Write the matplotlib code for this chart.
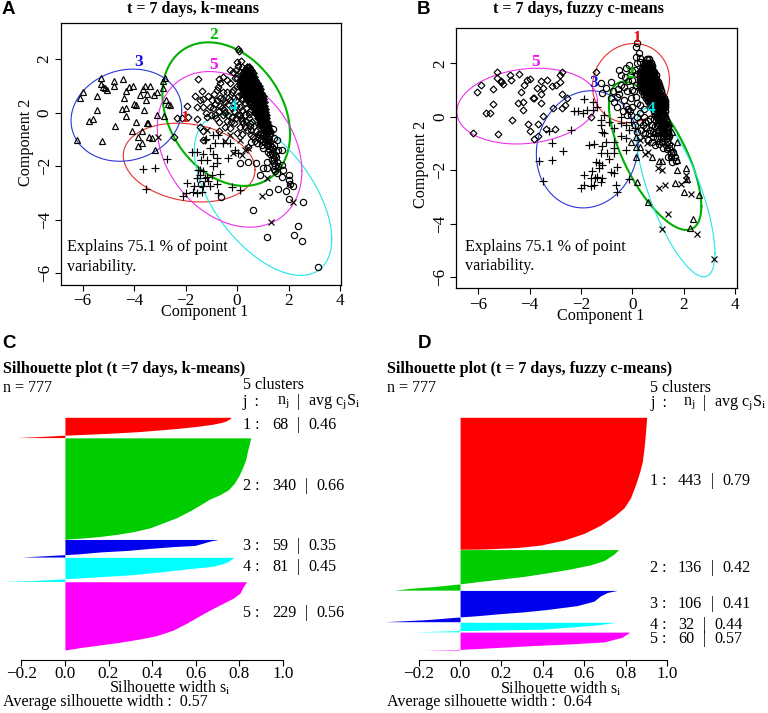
import numpy as np
import matplotlib
matplotlib.use("Agg")
import matplotlib.pyplot as plt

plt.rcParams['font.family'] = ['Liberation Serif', 'DejaVu Serif']
plt.rcParams['mathtext.default'] = 'regular'

W, H = 768, 713

# ---------- Panel A points (Component 1, Component 2) ----------
A_tri = [(-6.23,-1.02),(-6.1,.53),(-5.97,.78),(-5.45,.63),(-5.45,.1),(-5.74,-.3),(-5.6,-.25),(-5.28,1.27),(-5.28,1.07),
 (-5.13,.93),(-5.2,.94),(-5.07,.85),(-4.8,1.18),(-4.77,1.0),(-4.74,-.52),(-5.26,-1.06),(-4.44,1.24),(-4.39,.53),(-4.48,.12),
 (-4.33,.16),(-4.33,-.12),(-4.33,.82),(-4.18,.95),(-4.03,1.0),(-3.94,.29),(-3.94,-.37),(-4.08,-.68),(-3.83,-.92),(-3.83,-1.24),
 (-3.68,-1.14),(-3.7,-.68),(-3.77,.66),(-3.64,.87),(-3.58,.99),(-3.38,.99),(-3.51,.7),(-3.55,.47),(-3.61,.1),(-3.51,-.4),
 (-3.43,-.9),(-3.29,-.96),(-3.19,-1.39),(-3.12,-.11),(-3.21,.66),(-3.1,.75),(-2.88,1.18),(-2.8,1.3),(-2.89,.91),(-2.77,.47),
 (-2.6,.29),(-2.82,-.12),(-4.0,.3),(-3.45,-.4),(-2.68,.3)]
A_dia = [(.05,2.36),(.08,2.28),(.01,1.9),(.14,1.93),(.05,1.75),(.2,1.7),(-.27,1.57),(-.53,1.34),(-1.5,1.24),(-1.37,.82),(-1.63,.63),
 (-1.31,.5),(-1.11,.6),(-1.44,.47),(-1.93,.25),(-1.57,.22),(-1.31,.22),(-.79,.47),(-.66,.53),(-.4,.78),(-.92,.16),(-.6,.16),
 (-.85,-.09),(-1.18,-.17),(-1.57,-.25),(-1.89,-.17),(-2.15,-.2),(-2.34,-.2),(-1.44,-.55),(-1.31,-.7),(-1.31,-1.02),(-2.46,-.92),
 (-.27,.47),(-.14,.85),(-.08,1.28),(-.27,1.09),(-.66,1.09),(-.79,.85),(-.98,.47),(-.47,-.02),(-.27,-.58),(.12,-.09),(.25,-.4),
 (.5,-.52),(.63,-.9),(.9,-1.02),(1.02,-.58),(.44,-1.27),(-.1,.55),(-.05,.25),(.05,.6),(.1,.2),(-.2,.15),(-.35,.3),(-.55,.75),
 (.3,-.1),(.45,-.2),(.6,-.35),(-.1,-.4),(.0,-.75),(.2,-.8),(-.45,-.55),(-.7,-.35),(-1.05,.2),(-1.2,.0),(-.7,-.7),(.35,.15),
 (.55,-.65),(.75,-.7),(.82,-.8),(1.0,-.8),(1.1,-.95),(1.2,-1.15),(1.3,-1.1),
 (.85,-.45),(1.0,-.55),(1.1,-.5),(1.2,-.7),(.95,-.75),(1.05,-.9),(1.2,-.9),(1.3,-.85),(.8,-.95),(.7,-1.05),(.55,-.85),(.95,-1.0),
 (.65,-.5),(.4,-.65),(.3,-.55),(.2,-.3),(.45,-.05),(.5,.05),(.05,-.1),(.1,-.55),(-.05,-.2),(.3,.35),(.2,.45),(.15,.7),(.0,1.0),
 (-.2,.75),(-.45,.4),(-.65,.25),(-.8,-.2),(-.4,-.3),(-.55,-.1),(-.2,-.15),(-.1,.05),(-.75,.95),(-.7,1.25),(-.4,1.2),(-.15,1.5),
 (-.05,1.6),(.1,1.5),(.0,1.3),(-.9,.7),(-.55,.5),(-.85,.3),(-.35,.55),(-.5,.1),(-.7,.05),(-1.0,-.1),(-.35,-.1),(.2,.1),(.35,-.3),
 (.5,-.4),(-.25,-.35),(.15,-.2),(-.05,.45),(.2,.55)]
A_band = {1.7:[.38,.46], 1.58:[.3,.38,.46,.54], 1.46:[.22,.3,.38,.46,.54,.62], 1.34:[.18,.26,.34,.42,.5,.58,.66],
 1.22:[.14,.22,.3,.38,.46,.54,.62,.7], 1.1:[.12,.2,.28,.36,.44,.52,.6,.68,.76], .98:[.12,.2,.28,.36,.44,.52,.6,.68,.76,.84],
 .86:[.18,.26,.34,.42,.5,.58,.66,.74,.82,.88], .74:[.24,.32,.4,.48,.56,.64,.72,.8,.88,.94], .62:[.3,.38,.46,.54,.62,.7,.78,.86,.94,1.0],
 .5:[.38,.46,.54,.62,.7,.78,.86,.94,1.02], .38:[.48,.56,.64,.72,.8,.88,.96,1.04], .26:[.58,.66,.74,.82,.9,.98,1.06],
 .14:[.64,.72,.8,.88,.96,1.04,1.1], .02:[.7,.78,.86,.94,1.02,1.1], -.1:[.76,.84,.92,1.0,1.08,1.14], -.22:[.82,.9,.98,1.06,1.14],
 -.34:[.88,.98,1.08,1.16], -.46:[.95,1.05,1.15,1.22], -.58:[1.02,1.12,1.22], -.7:[1.08,1.18,1.28]}
A_cir = [(.12,-1.89),(.44,-1.85),(.74,-1.89),(1.02,-2.08),(1.15,-2.08),(.9,-2.33),(1.15,-1.83),(1.35,-1.77),(1.48,-1.58),(1.41,-.62),
 (1.74,-1.39),(1.48,-2.01),(1.48,-2.2),(1.74,-1.95),(1.8,-2.14),(1.74,-2.39),(2.0,-2.33),(2.03,-2.51),(2.06,-2.67),(2.19,-2.76),
 (1.61,-2.86),(1.89,-2.92),(1.26,-2.97),(2.0,-3.22),(2.55,-3.35),(.61,-3.64),(-.63,-3.17),(1.15,-4.63),(2.36,-4.25),(2.23,-4.59),
 (2.51,-4.79),(3.16,-5.77),(-1.4,-2.66),(1.28,-.77),(1.15,-1.02),(1.54,-1.02),(.76,-1.14),(1.02,-1.33),(1.22,-1.46),(1.35,-1.27),
 (1.61,-1.39),(.55,-1.1),(.9,-.85),(1.3,-1.55),(1.45,-1.75),(1.42,-.95),(.98,-1.2),(1.25,-1.0),(1.1,-1.1),(1.0,-1.05),(1.15,-1.2),
 (1.3,-1.25),(1.45,-1.2),(1.4,-1.35),(1.25,-1.35),(1.35,-1.5),(1.5,-1.45),(1.5,-1.65),(1.4,-1.6),(1.55,-1.85),(1.6,-2.0),(1.45,-1.9),
 (1.42,-2.1),(1.55,-2.25)]
A_plus = [(-3.64,-2.1),(-3.19,-2.08),(-2.73,-1.73),(-3.54,-2.86),(-1.76,-1.49),(-1.57,-1.49),(-1.39,-1.77),(-1.18,-1.77),(-.79,-1.7),
 (-.79,-1.89),(-.34,-1.7),(-1.44,-2.14),(-1.31,-2.2),(-1.57,-2.45),(-1.18,-2.39),(-.98,-2.33),(-.66,-2.29),(-1.96,-2.64),
 (-1.69,-2.76),(-1.31,-2.76),(-1.12,-2.57),(-.79,-2.66),(-.21,-2.79),(.12,-2.91),(-.73,-3.01),(-1.57,-3.01),(-1.98,-3.01),
 (-2.09,-3.13),(-1.24,-1.02),(-.85,-1.14),(-1.05,-1.33),(-.53,-1.14),(-.27,-1.14),(-.08,-1.39),(.05,-1.52),(-.92,-.83),(-.73,-.83),
 (-1.31,-1.55),(-.92,-2.01),(-1.44,-2.33),(-1.05,-2.76),(-1.37,-2.95),(-1.5,-2.15),(-1.2,-1.0),(-.95,-1.55),(-1.25,-2.45),(-1.7,-2.95)]
A_x = [(-3.08,-.9),(.96,-3.1),(1.32,-4.1),(2.19,-3.35),(2.0,-2.67),(1.15,-2.45),(-.14,-1.52),(.18,-1.58),(.12,-1.02),(.44,-1.33),
 (-1.18,-.65),(-.27,-.83),(-.45,-1.05),(.3,-1.4)]

# ---------- Panel B points ----------
B_dia = [(-6.21,-.59),(-6.04,.92),(-5.91,1.19),(-5.43,1.03),(-5.43,.48),(-5.71,.13),(-5.56,.16),(-5.23,-.64),(-5.26,1.68),(-5.26,1.44),
 (-5.13,1.34),(-5.03,1.23),(-5.1,1.3),(-4.77,1.56),(-4.73,1.38),(-4.7,-.12),(-4.42,1.61),(-4.35,.92),(-4.44,.53),(-4.27,.57),(-4.27,.26),
 (-4.22,1.19),(-4.12,1.38),(-3.99,1.4),(-3.87,.69),(-4.05,-.28),(-4.0,-.52),(-3.83,-.84),(-3.66,-.72),(-3.66,-.28),(-3.73,1.07),
 (-3.57,1.35),(-3.31,1.38),(-3.47,1.07),(-3.57,.5),(-3.47,.03),(-3.35,-.47),(-3.01,-.47),(-3.08,.32),(-3.12,1.15),(-2.99,1.19),
 (-2.82,1.31),(-2.73,1.69),(-2.83,1.56),(-2.73,.85),(-2.53,.69),(-2.62,.44),(-2.75,.32),(-1.62,-.02),(-1.4,1.69),(-3.85,.7),(-3.55,.85)]
B_plus = [(-3.64,-1.65),(-3.12,-1.63),(-2.69,-1.28),(-3.48,-2.41),(-3.14,-.97),(-2.4,-.49),(-3.25,-.53),(-1.88,.67),(-2.27,.23),(-2.1,.22),
 (-1.91,.16),(-1.75,.26),(-1.52,.57),(-1.52,.26),(-1.36,.38),(-1.23,-.12),(-1.23,-.31),(-1.17,-.55),(-.71,-.43),(-.43,0),(-.45,-.24),
 (-.26,-.31),(-.13,-.49),(-.43,-.72),(-.26,-.81),(-.71,-.93),(-1.69,-1.05),(-1.49,-1.02),(-1.17,-1.08),(-1.04,-.93),(-.71,-1.18),
 (-.26,-1.24),(-1.23,-1.36),(-.97,-1.36),(-.71,-1.36),(-.91,-1.59),(-1.43,-1.68),(-1.3,-1.74),(-1.17,-1.8),(-.58,-1.86),(-.84,-2.05),
 (-1.56,-2.02),(-1.88,-2.17),(-1.62,-2.3),(-1.36,-2.24),(-1.17,-2.3),(-.71,-2.11),(-1.23,-2.42),(-1.88,-2.55),(-2.01,-2.67),(-1.62,-2.59),
 (-1.49,-2.55),(-.62,-2.55),(-.13,-2.34),(-.58,-2.8),(-1.1,-.62),(-1.1,.07),(-.91,-.18),(-.06,-.18),(.09,-.43),(-1.3,-1.9),(-1.45,-2.3)]
B_tri = [(.16,-.74),(-.06,-.93),(.13,-1.12),(.32,-1.12),(.16,-1.49),(.17,-2.45),(.62,-3.2),(1.04,-1.65),(1.17,-1.65),(.78,-1.49),(1.65,-2.46),
 (2.01,-2.8),(2.6,-2.93),(2.38,-3.82),(2.25,-4.14),(2.08,-1.93),(1.75,-.93),(1.56,-.55),(1.43,-.24),(1.23,.19),(1.62,-1.3),(1.75,-1.61),
 (1.75,-1.99),(2.14,-2.34),(1.36,-1.12),(1.49,-1.43),(.85,-.6),(1.0,-.9)]
B_x = [(3.18,-5.33),(2.53,-4.38),(1.17,-4.19),(1.4,-3.63),(1.04,-2.65),(1.27,-2.56),(1.91,-2.51),(2.27,-2.9),(2.08,-2.36),(2.08,-2.17),
 (1.0,-1.93),(1.14,-1.99),(.58,-.99),(.48,-1.39),(.62,-1.3),(.32,-.87),(.97,-.62),(.42,-.75)]
B_cir = [(.19,2.75),(.16,2.62),(.26,2.37),(.32,2.19),(.13,2.25),(.19,2),(.3,2.05),(-.13,1.94),(-.26,1.81),(-.52,1.75),(-.45,1.56),(-.84,1.31),
 (-1.04,1.07),(-1.23,1.25),(-1.17,.88),(-.84,.69),(-.58,.75),(-.32,.63),(-.06,.69),(-.32,1.13),(0,1.38),(0,1),(-.58,.38),(0,.38),(.19,.5),
 (.32,.13),(-.06,.07),(-.75,.95),(-.55,1.05),(-.2,.95),(.15,1.2),(.2,1.6),(.1,1.75),(-.15,.3),(-.35,.2),(.45,.0),(.6,-.15),(.55,-.4),
 (.75,-.3),(.65,-.6),(.9,-.35),(.8,-.75),(1.0,-.6),(1.15,-.95),(1.3,-1.05),(1.45,-1.15),(1.5,-1.35),(.9,-1.05),(.75,-.95),(1.65,-1.5),
 (1.55,-1.7),(.2,.0),(.3,-.2),(.1,-.3),(.35,-.5),(.2,-.55),(.5,-.2),(.7,-.1),(.85,-.1),(.95,-.3),(1.05,-.5),(1.15,-.4),(1.25,-.5),(1.3,-.7),
 (1.4,-.8),(1.2,-.8),(1.1,-.75),(.95,-.8),(1.05,-1.0),(1.2,-1.15),(1.35,-.95),(1.45,-1.0),(1.35,-1.2),(1.5,-1.1),(1.6,-1.3),(1.5,-1.5),
 (1.7,-1.65),(1.4,-1.5),(.7,-.5),(.5,-.6),(.4,-.3),(.8,-.55),(.6,-.85),(.45,.3),(.3,.45),(.15,.75),(.05,.95),(-.15,1.35),(-.3,1.5),
 (-.1,1.55),(.0,1.7),(-.45,1.2),(-.5,.85),(-.7,.55),(-.25,.4),(-.1,.2),(-.2,.05)]
B_band = {2.15:[.58,.66], 2.03:[.5,.58,.66,.74], 1.91:[.44,.52,.6,.68,.76], 1.79:[.38,.46,.54,.62,.7,.78],
 1.67:[.32,.4,.48,.56,.64,.72,.8,.86], 1.55:[.3,.38,.46,.54,.62,.7,.78,.86,.92], 1.43:[.3,.38,.46,.54,.62,.7,.78,.86,.94],
 1.31:[.3,.38,.46,.54,.62,.7,.78,.86,.94,1.0], 1.19:[.32,.4,.48,.56,.64,.72,.8,.88,.96,1.04], 1.07:[.34,.42,.5,.58,.66,.74,.82,.9,.98,1.08],
 .95:[.38,.46,.54,.62,.7,.78,.86,.94,1.02,1.12], .83:[.44,.52,.6,.68,.76,.84,.92,1,1.08,1.16], .71:[.52,.6,.68,.76,.84,.92,1,1.08,1.16,1.22],
 .59:[.62,.7,.78,.86,.94,1.02,1.1,1.18,1.26], .47:[.7,.78,.86,.94,1.02,1.1,1.18,1.26], .35:[.78,.86,.94,1.02,1.1,1.18,1.26],
 .23:[.84,.92,1,1.08,1.16,1.26], .11:[.9,.98,1.06,1.14,1.24], -.01:[.95,1.05,1.15,1.26], -.13:[1.0,1.1,1.2,1.3],
 -.25:[1.05,1.15,1.25,1.33], -.37:[1.1,1.2,1.3,1.38], -.49:[1.15,1.25,1.35], -.61:[1.2,1.3,1.4], -.73:[1.25,1.35,1.45]}

# ---------- Ellipses: centre x/y, half extents x/y, correlation ----------
A_ell = {'1': (-1.86,-1.87,2.56,1.47,-.18), '2': (-.42,-.06,2.48,2.68,-.28), '3': (-4.3,-.1,2.15,1.72,.12),
         '4': (1.01,-3.08,2.67,3.0,-.55), '5': (-.29,-1.375,2.81,2.905,-.28)}
B_ell = {'1': (-.05,1.26,1.5,1.48,.08), '2': (.89,-1.46,1.8,2.77,-.68), '3': (-1.76,-1.215,1.98,2.19,.08),
         '4': (1.68,-2.83,1.54,3.15,-.72), '5': (-4.1,.4,2.74,1.415,.15)}
A_lab = {'1': (-2.02,-.21), '2': (-.89,2.9), '3': (-3.83,1.87), '4': (-.14,.2), '5': (-.92,1.78)}
B_lab = {'1': (.19,2.93), '2': (-.09,1.6), '3': (-1.49,1.25), '4': (.75,.29), '5': (-3.77,2.06)}
ell_col = {'1': '#e8302c', '2': '#00b000', '3': '#2a36d8', '4': '#22e6e6', '5': '#ee30ee'}
lab_col = {'1': '#e01010', '2': '#00c000', '3': '#1010e0', '4': '#00e0e0', '5': '#f010f0'}

# ---------- Silhouette profiles: rank within cluster, width ----------
C_n = [68, 340, 59, 81, 229]
C_rank = [[0,3,12,17,23,31,37,42,48,53,57,60,64,68],
 [0,22,45,73,96,124,152,174,191,205,225,245,268,285,302,315,324,331,336,340],
 [0,1,4,12,20,24,30,37,42,48,51,55,59],
 [0,10,19,30,39,49,58,65,72,78,81],
 [0,16,38,55,66,89,113,139,162,181,192,203,212,221,229]]
C_sil = [[.76,.76,.74,.72,.68,.6,.52,.44,.34,.22,.1,0,-.1,-.22],
 [.852,.845,.837,.829,.817,.80,.777,.75,.71,.665,.62,.573,.512,.451,.39,.313,.237,.16,.084,0],
 [.70,.696,.673,.635,.596,.497,.39,.283,.16,.069,0,-.1,-.2],
 [.775,.757,.734,.68,.558,.436,.313,.16,0,-.145,-.29],
 [.833,.818,.803,.772,.742,.68,.62,.558,.497,.42,.344,.252,.16,.069,0]]
D_n = [443, 136, 106, 32, 60]
D_rank = [[0,59,104,148,181,226,270,304,332,362,390,412,429,437,442,443],
 [0,15,37,51,65,78,90,99,108,115,124,130,136],
 [0,7,18,36,51,64,72,78,85,89,98,105],
 [0,9,23,28,32],
 [0,17,33,40,45,54,58,60]]
D_sil = [[.902,.895,.889,.881,.869,.848,.824,.792,.744,.679,.598,.502,.389,.276,.115,0],
 [.766,.744,.695,.631,.534,.421,.308,.195,.082,0,-.127,-.24,-.318],
 [.76,.711,.679,.647,.566,.421,.308,.195,.082,0,-.16,-.361],
 [.753,.66,.40,0,-.23],
 [.82,.784,.695,.518,.356,.115,0,-.18]]
sil_col = ['#ff0000', '#00cd00', '#0000ee', '#00ffff', '#ff00ff']

C_rows = [('1 :','68','0.46',425),('2 :','340','0.66',486),('3 :','59','0.35',546),('4 :','81','0.45',567),('5 :','229','0.56',613)]
D_rows = [('1 :','443','0.79',481),('2 :','136','0.42',568),('3 :','106','0.41',604),('4 :','32','0.44',625),('5 :','60','0.57',639)]
sil_ticks = [-.2, 0, .2, .4, .6, .8, 1.0]
sil_ticklabels = ['\u22120.2', '0.0', '0.2', '0.4', '0.6', '0.8', '1.0']

FS = 11.6
fig = plt.figure(figsize=(W/100, H/100), dpi=100)

def T(x, y, s, ha='left', va='center', size=FS, **kw):
    return fig.text(x/W, 1-y/H, s, ha=ha, va=va, fontsize=size, **kw)

def make_ax(l, t, r, b):
    return fig.add_axes([l/W, 1-b/H, (r-l)/W, (b-t)/H])

def scatter(ax, pts, marker, ms, mew=.85):
    a = np.array(pts)
    ax.plot(a[:,0], a[:,1], ls='none', marker=marker, ms=ms, mfc='none', mec='black', mew=mew, zorder=3)

def pca_panel(box, xlim, ylim, layers, band, band_mk, band_ms, ell, lab):
    ax = make_ax(*box)
    for s in ax.spines.values():
        s.set_linewidth(.9)
    for mk, pts, ms in layers:
        scatter(ax, pts, mk, ms)
    scatter(ax, [(x, y) for y, xs in band.items() for x in xs], band_mk, band_ms, mew=1.1)
    t = np.linspace(0, 2*np.pi, 200)
    for k, (cx, cy, hx, hy, r) in ell.items():
        phi = np.arccos(r)
        ax.plot(cx + hx*np.cos(t), cy + hy*np.cos(t - phi), color=ell_col[k], lw=1.5 if k == '2' else .8, zorder=2)
    for k, (x, y) in lab.items():
        ax.text(x, y, k, color=lab_col[k], fontsize=12.5, fontweight='bold', ha='center', va='center', zorder=4)
    ax.set_xlim(*xlim); ax.set_ylim(*ylim)
    ax.set_xticks(range(-6, 5, 2))
    ax.set_xticklabels(['\u22126','\u22124','\u22122','0','2','4'], fontsize=FS+.7)
    ax.set_yticks(range(-6, 3, 2))
    ax.set_yticklabels(['\u22126','\u22124','\u22122','0','2'], fontsize=FS+.7, rotation=90, va='center')
    ax.tick_params(length=4, width=.8, pad=2)
    return ax

pca_panel((61, 23.3, 341, 284.5), (-6.84, 4.04), (-6.42, 3.33),
          [('^', A_tri, 4.4), ('D', A_dia, 3.5), ('o', A_cir, 4.5), ('+', A_plus, 6), ('x', A_x, 4.2)],
          A_band, 'D', 3.5, A_ell, A_lab)
pca_panel((456.3, 28, 736.7, 288.3), (-6.86, 4.07), (-6.41, 3.32),
          [('D', B_dia, 3.5), ('+', B_plus, 6), ('^', B_tri, 4.4), ('x', B_x, 4.2), ('o', B_cir, 4.5)],
          B_band, 'o', 4.5, B_ell, B_lab)

for x, y, s, tx, ty, ttl in [(2, 10, 'A', 193, 9, 't = 7 days, k-means'), (417, 10, 'B', 578, 9, 't = 7 days, fuzzy c-means')]:
    T(x, y, s, size=13.5, fontweight='bold', family='Liberation Sans')
    T(tx, ty, ttl, ha='center', fontweight='bold')
T(205, 312, 'Component 1', ha='center')
T(26, 142, 'Component 2', ha='center', rotation=90)
T(601, 316, 'Component 1', ha='center')
T(421, 164, 'Component 2', ha='center', rotation=90)
T(67, 247, 'Explains 75.1 % of point'); T(67, 267, 'variability.')
T(465, 247, 'Explains 75.1 % of point'); T(465, 266, 'variability.')

def sil_panel(l, r, ns, ranks, sils, gap):
    top, bar_bottom, ax_bottom = 417.3, 650.0, 660.0
    ax = make_ax(l, top, r, ax_bottom)
    off = 0
    for n, rk, sv, c in zip(ns, ranks, sils, sil_col):
        ax.fill_betweenx(off + np.array(rk, float), 0, sv, color=c, lw=0, clip_on=False)
        off += n + gap
    total = off - gap
    ax.set_xlim(-.2, 1.0)
    ax.set_ylim(total*(ax_bottom-top)/(bar_bottom-top), 0)
    ax.set_yticks([])
    for k in ('left', 'right', 'top'):
        ax.spines[k].set_visible(False)
    ax.spines['bottom'].set_linewidth(.8)
    ax.set_xticks(sil_ticks)
    ax.set_xticklabels(sil_ticklabels, fontsize=FS+.7)
    ax.tick_params(length=4, width=.8, pad=0)
    ax.patch.set_alpha(0)
    return ax

sil_panel(21.3, 283, C_n, C_rank, C_sil, 1)
sil_panel(418.7, 667, D_n, D_rank, D_sil, 1)

def sil_text(x0, letter_x, letter, title, xlab_x, xlab_y, avg, hy, cy, nx, barx, avgx, rows, cols):
    T(letter_x, 344, letter, size=13.5, fontweight='bold', family='Liberation Sans')
    T(x0, 369, title, fontweight='bold')
    T(x0, 388, 'n = 777')
    T(xlab_x, xlab_y, 'Silhouette width $s_i$', ha='center')
    T(x0, 702, 'Average silhouette width :  ' + avg)
    T(cols[0], cy, '5 clusters')
    T(cols[0], hy, 'j  :')
    T(nx, hy, '$n_j$')
    T(barx, hy, '|')
    T(avgx, hy, 'avg $c_jS_i$')
    for a, n, v, y in rows:
        T(cols[0], y, a)
        two = len(n) == 2
        T(cols[1], y, n)
        T(cols[2] if two else cols[3], y, '|')
        T(cols[4] if two else cols[5], y, v)

sil_text(3, 2, 'C', 'Silhouette plot (t =7 days, k-means)', 170, 688, '0.57', 402, 385, 277, 297, 308, C_rows,
         (243, 272, 297, 305, 308, 316))
sil_text(387, 418, 'D', 'Silhouette plot (t = 7 days, fuzzy c-means)', 561, 689, '0.64', 403, 388, 683, 703, 714, D_rows,
         (650, 678, 703, 711, 714, 722))

fig.savefig('out.png', dpi=100)
